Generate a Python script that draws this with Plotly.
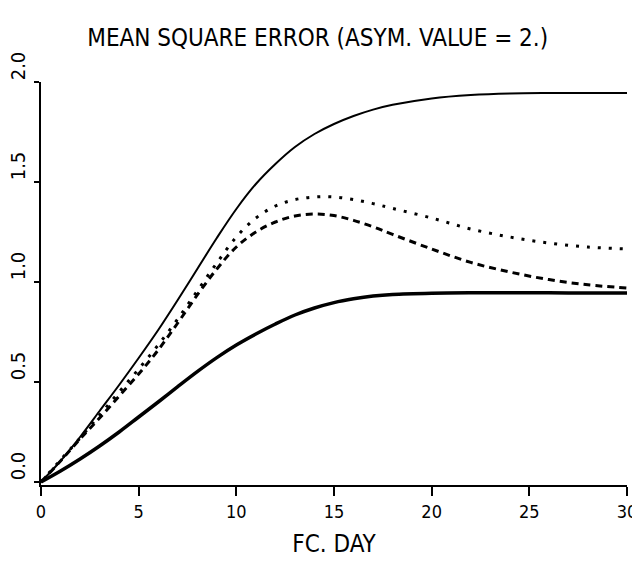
import plotly.graph_objects as go

day = [0, 1, 2, 3, 4, 5, 6, 7, 8, 9, 10, 11, 12, 13, 14, 15, 16, 17, 18, 20, 22, 24, 26, 28, 30]

thin_solid = [0, 0.105, 0.225, 0.355, 0.485, 0.62, 0.76, 0.91, 1.065, 1.22, 1.365, 1.49, 1.59, 1.675, 1.74,
              1.79, 1.83, 1.862, 1.886, 1.918, 1.935, 1.943, 1.945, 1.945, 1.945]
dotted = [0, 0.11, 0.22, 0.335, 0.45, 0.565, 0.685, 0.815, 0.955, 1.095, 1.225, 1.32, 1.38, 1.412, 1.425,
          1.425, 1.412, 1.392, 1.368, 1.32, 1.265, 1.225, 1.195, 1.175, 1.165]
dashed = [0, 0.105, 0.215, 0.32, 0.43, 0.54, 0.66, 0.795, 0.935, 1.065, 1.175, 1.25, 1.30, 1.33, 1.34,
          1.332, 1.308, 1.276, 1.238, 1.165, 1.098, 1.05, 1.012, 0.986, 0.97]
thick_solid = [0, 0.055, 0.115, 0.18, 0.25, 0.325, 0.40, 0.477, 0.552, 0.622, 0.685, 0.74, 0.79, 0.835,
               0.87, 0.897, 0.916, 0.93, 0.938, 0.944, 0.946, 0.946, 0.946, 0.945, 0.945]

x_ticks = [0, 5, 10, 15, 20, 25, 30]
y_ticks = [0.0, 0.5, 1.0, 1.5, 2.0]
y_tick_text = ["0.0", "0.5", "1.0", "1.5", "2.0"]

FONT = "Liberation Sans Narrow, DejaVu Sans Condensed, Arial Narrow, sans-serif"

fig = go.Figure()
fig.add_trace(go.Scatter(x=day, y=thin_solid, mode="lines", line=dict(color="black", width=2, shape="spline")))
fig.add_trace(go.Scatter(x=day, y=dotted, mode="lines", line=dict(color="black", width=3, dash="3px,8px", shape="spline")))
fig.add_trace(go.Scatter(x=day, y=dashed, mode="lines", line=dict(color="black", width=3, dash="7px,5px", shape="spline")))
fig.add_trace(go.Scatter(x=day, y=thick_solid, mode="lines", line=dict(color="black", width=3.5, shape="spline")))

# page body has an 8px margin, so the figure is sized to fill the rest of the window
fig.update_layout(
    width=632, height=553,
    margin=dict(l=33, r=13, t=74, b=76, autoexpand=False),
    paper_bgcolor="white", plot_bgcolor="white",
    showlegend=False,
    font=dict(family=FONT, color="black"),
    title=dict(text="MEAN SQUARE ERROR (ASYM. VALUE = 2.)", x=0.49, xanchor="center",
               y=0.946, yanchor="middle", font=dict(size=24, family=FONT, color="black")),
)
fig.update_xaxes(
    range=[0, 30], tickvals=x_ticks, ticks="outside", ticklen=9, tickwidth=1.5, tickcolor="black",
    showline=True, linecolor="black", linewidth=2, showgrid=False, zeroline=False, automargin=False,
    tickfont=dict(size=18, family=FONT),
    title=dict(text="FC. DAY", font=dict(size=24, family=FONT), standoff=15),
)
fig.update_yaxes(
    range=[-0.015, 2.0], tickvals=y_ticks, ticktext=y_tick_text, tickangle=-90,
    ticks="outside", ticklen=5, tickwidth=1.5, tickcolor="black", ticklabelshift=-13,
    ticklabelstandoff=1,
    showline=True, linecolor="black", linewidth=2, showgrid=False, zeroline=False, automargin=False,
    tickfont=dict(size=20, family=FONT),
)

fig.write_html("out.html")
